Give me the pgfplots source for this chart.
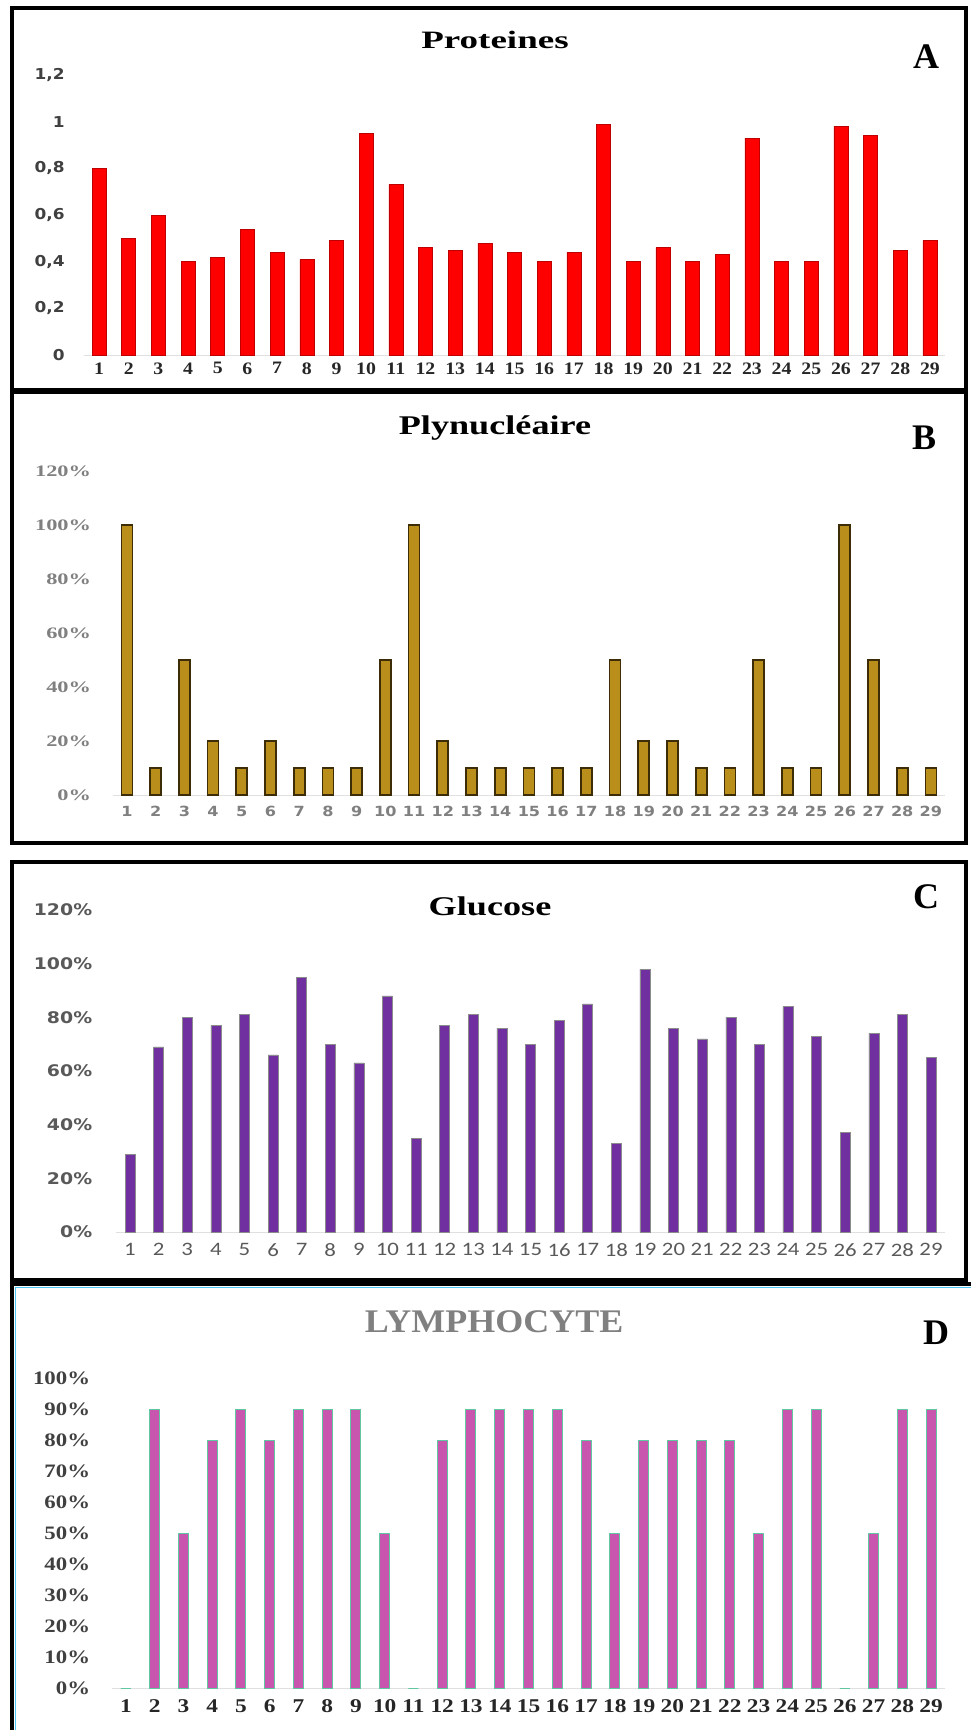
\documentclass[border=0pt]{standalone}
\usepackage{fontspec}
\usepackage{graphicx}
\usepackage{pgfplots}
\pgfplotsset{compat=1.18}
\setmainfont{Liberation Serif}
\newfontfamily\dvA{DejaVu Sans}[FakeStretch=1.13]
\newfontfamily\dvB{DejaVu Sans}[FakeStretch=1.15]
\newfontfamily\dvC{DejaVu Sans}[FakeStretch=1.18]
\newfontfamily\lsA{Liberation Serif}[FakeStretch=1.13]
\newfontfamily\lsB{Liberation Serif}[FakeStretch=1.4]
\newfontfamily\lsD{Liberation Serif}[FakeStretch=1.2]
\newfontfamily\crC{Carlito}[FakeStretch=1.2]

\definecolor{goldbar}{RGB}{186,142,26}
\definecolor{goldedge}{RGB}{60,45,8}
\definecolor{purplebar}{RGB}{112,48,160}
\definecolor{pinkbar}{RGB}{201,86,174}
\definecolor{tealedge}{RGB}{95,200,160}
\definecolor{gtxt}{RGB}{89,89,89}

\pgfplotsset{
  panel/.style={
    scale only axis, anchor=south west,
    xmin=0.5, xmax=29.5, ymin=0,
    axis lines*=left,
    x axis line style={-, black!12, line width=1pt},
    y axis line style={draw=none},
    major tick length=0pt,
    xtick={1,...,29},
    ybar, clip=false,
    /pgf/number format/assume math mode=true,
  },
}

\begin{document}
\begin{tikzpicture}
\path[use as bounding box] (0,0) rectangle (970pt,-1730pt);

% frames round the four panels
\draw[line width=4pt] (12pt,-8pt) rectangle (966pt,-390pt);
\draw[line width=4pt] (12pt,-392pt) rectangle (966pt,-843pt);
\draw[line width=4pt] (12pt,-862pt) rectangle (966pt,-1280pt);
\draw[line width=4pt] (12pt,-1732pt) -- (12pt,-1284pt) -- (972pt,-1284pt);
\draw[cyan!70, line width=1.5pt] (15.5pt,-1732pt) -- (15.5pt,-1287.5pt) -- (972pt,-1287.5pt);

% A : Proteines
\begin{axis}[panel,
  at={(84.2pt,-355pt)}, width=860.6pt, height=280pt,
  ymax=1.2, ytick={0,0.2,...,1.2},
  /pgf/number format/use comma,
  bar width=14pt,
  yticklabel style={font=\dvA\bfseries\fontsize{15}{15}\selectfont, text=black!75, xshift=-16pt},
  xticklabel style={font=\lsA\bfseries\fontsize{17.5}{17.5}\selectfont, text=black!85, yshift=-4pt},
]
\addplot[fill=red, draw=red!75!black, line width=0.5pt] coordinates {
  (1,0.80) (2,0.50) (3,0.60) (4,0.40) (5,0.42) (6,0.54) (7,0.44) (8,0.41)
  (9,0.49) (10,0.95) (11,0.73) (12,0.46) (13,0.45) (14,0.48) (15,0.44)
  (16,0.40) (17,0.44) (18,0.99) (19,0.40) (20,0.46) (21,0.40) (22,0.43)
  (23,0.93) (24,0.40) (25,0.40) (26,0.98) (27,0.94) (28,0.45) (29,0.49)
};
\end{axis}

% B : Plynucleaire
\begin{axis}[panel,
  at={(112.6pt,-795pt)}, width=832.7pt, height=324pt,
  ymax=120, ytick={0,20,...,120},
  yticklabel={\pgfmathprintnumber{\tick}\%},
  bar width=11pt,
  yticklabel style={font=\lsB\bfseries\fontsize{16}{16}\selectfont, text=black!50, xshift=-18pt},
  xticklabel style={font=\dvB\bfseries\fontsize{14}{14}\selectfont, text=black!50, yshift=-8pt},
]
\addplot[fill=goldbar, draw=goldedge, line width=1.8pt] coordinates {
  (1,100) (2,10) (3,50) (4,20) (5,10) (6,20) (7,10) (8,10) (9,10) (10,50)
  (11,100) (12,20) (13,10) (14,10) (15,10) (16,10) (17,10) (18,50) (19,20)
  (20,20) (21,10) (22,10) (23,50) (24,10) (25,10) (26,100) (27,50) (28,10) (29,10)
};
\end{axis}

% C : Glucose
\begin{axis}[panel,
  at={(115.7pt,-1232pt)}, width=829.6pt, height=322pt,
  ymax=120, ytick={0,20,...,120},
  yticklabel={\pgfmathprintnumber{\tick}\%},
  bar width=10pt,
  yticklabel style={font=\dvC\bfseries\fontsize{16}{16}\selectfont, text=gtxt, xshift=-20pt},
  xticklabel style={font=\crC\fontsize{19}{19}\selectfont, text=gtxt, yshift=-8pt},
]
\addplot[fill=purplebar, draw=black!45, line width=0.5pt] coordinates {
  (1,29) (2,69) (3,80) (4,77) (5,81) (6,66) (7,95) (8,70) (9,63) (10,88)
  (11,35) (12,77) (13,81) (14,76) (15,70) (16,79) (17,85) (18,33) (19,98)
  (20,76) (21,72) (22,80) (23,70) (24,84) (25,73) (26,37) (27,74) (28,81) (29,65)
};
\end{axis}

% D : Lymphocyte
\begin{axis}[panel,
  at={(111.6pt,-1688pt)}, width=833.8pt, height=310pt,
  ymax=100, ytick={0,10,...,100},
  yticklabel={\pgfmathprintnumber{\tick}\%},
  bar width=10pt,
  yticklabel style={font=\lsD\bfseries\fontsize{19}{19}\selectfont, text=black!75, xshift=-18pt},
  xticklabel style={font=\lsD\bfseries\fontsize{19.5}{19.5}\selectfont, text=black!85, yshift=-8pt},
]
\addplot[fill=pinkbar, draw=tealedge, line width=1pt] coordinates {
  (1,0) (2,90) (3,50) (4,80) (5,90) (6,80) (7,90) (8,90) (9,90) (10,50)
  (11,0) (12,80) (13,90) (14,90) (15,90) (16,90) (17,80) (18,50) (19,80)
  (20,80) (21,80) (22,80) (23,50) (24,90) (25,90) (26,0) (27,50) (28,90) (29,90)
};
\end{axis}

% titles and panel letters
\node at (495pt,-40pt) {\scalebox{1.48}[1]{\fontsize{25}{25}\selectfont\bfseries Proteines}};
\node at (495pt,-428pt) {\scalebox{1.34}[1]{\fontsize{27}{27}\selectfont\bfseries Plynucléaire}};
\node at (490pt,-906pt) {\scalebox{1.34}[1]{\fontsize{27}{27}\selectfont\bfseries Glucose}};
\node[text=black!50] at (494pt,-1322pt) {\scalebox{1.09}[1]{\fontsize{33}{33}\selectfont\bfseries LYMPHOCYTE}};
\node[font=\fontsize{36}{36}\selectfont\bfseries] at (926pt,-57pt) {A};
\node[font=\fontsize{36}{36}\selectfont\bfseries] at (924pt,-438pt) {B};
\node[font=\fontsize{36}{36}\selectfont\bfseries] at (926pt,-897pt) {C};
\node[font=\fontsize{36}{36}\selectfont\bfseries] at (936pt,-1333pt) {D};
\end{tikzpicture}
\end{document}
